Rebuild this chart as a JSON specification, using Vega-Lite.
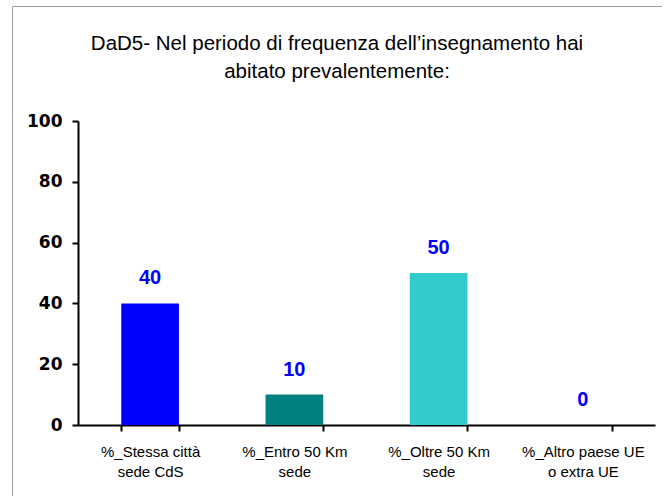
{
  "$schema": "https://vega.github.io/schema/vega-lite/v6.json",
  "autosize": "none",
  "padding": {"left": 12, "top": 6, "right": 0, "bottom": 0},
  "width": 650,
  "height": 490,
  "background": "white",
  "view": {"stroke": "#a0a0a0", "strokeWidth": 1, "fill": "white"},
  "config": {
    "view": {"stroke": "#a0a0a0", "strokeWidth": 1},
    "font": "Liberation Sans"
  },
  "title": {
    "text": ["DaD5- Nel periodo di frequenza dell’insegnamento hai", "abitato prevalentemente:"],
    "font": "Liberation Sans",
    "fontSize": 20.5,
    "fontWeight": "normal",
    "color": "#000000",
    "anchor": "middle",
    "frame": "group",
    "baseline": "top",
    "lineHeight": 28,
    "offset": -76
  },
  "data": {
    "values": [
      {"cat": "%_Stessa città\nsede CdS", "value": 40},
      {"cat": "%_Entro 50 Km\nsede", "value": 10},
      {"cat": "%_Oltre 50 Km\nsede", "value": 50},
      {"cat": "%_Altro paese UE\no extra UE", "value": 0}
    ]
  },
  "encoding": {
    "x": {
      "field": "cat",
      "type": "nominal",
      "sort": null,
      "scale": {"range": [66, 643], "paddingInner": 0.6, "paddingOuter": 0.3},
      "axis": {
        "title": null,
        "labelAngle": 0,
        "labelExpr": "split(datum.label, '\\n')",
        "labelFont": "Liberation Sans",
        "labelFontSize": 15,
        "labelColor": "#000000",
        "labelLineHeight": 20,
        "labelPadding": 13,
        "labelBaseline": "top",
        "tickBand": "extent",
        "tickSize": 6,
        "tickColor": "#000000",
        "tickWidth": 2,
        "domainColor": "#000000",
        "domainWidth": 2,
        "offset": -71
      }
    },
    "y": {
      "field": "value",
      "type": "quantitative",
      "scale": {"domain": [0, 100], "range": [419, 115], "nice": false},
      "axis": {
        "title": null,
        "values": [0, 20, 40, 60, 80, 100],
        "grid": false,
        "labelFont": "DejaVu Sans",
        "labelFontWeight": "bold",
        "labelFontSize": 17,
        "labelColor": "#000000",
        "labelPadding": 10,
        "tickSize": 6,
        "tickColor": "#000000",
        "tickWidth": 2,
        "domainColor": "#000000",
        "domainWidth": 2,
        "offset": -66
      }
    }
  },
  "layer": [
    {
      "mark": {"type": "bar"},
      "encoding": {
        "color": {
          "field": "cat",
          "type": "nominal",
          "sort": null,
          "scale": {"range": ["#0000FF", "#008080", "#33CCCC", "#CCFFFF"]},
          "legend": null
        }
      }
    },
    {
      "mark": {
        "type": "text",
        "font": "Liberation Sans",
        "fontSize": 20,
        "fontWeight": "bold",
        "color": "#0000FF",
        "baseline": "alphabetic",
        "dy": -19
      },
      "encoding": {
        "text": {"field": "value", "type": "quantitative"}
      }
    }
  ]
}
